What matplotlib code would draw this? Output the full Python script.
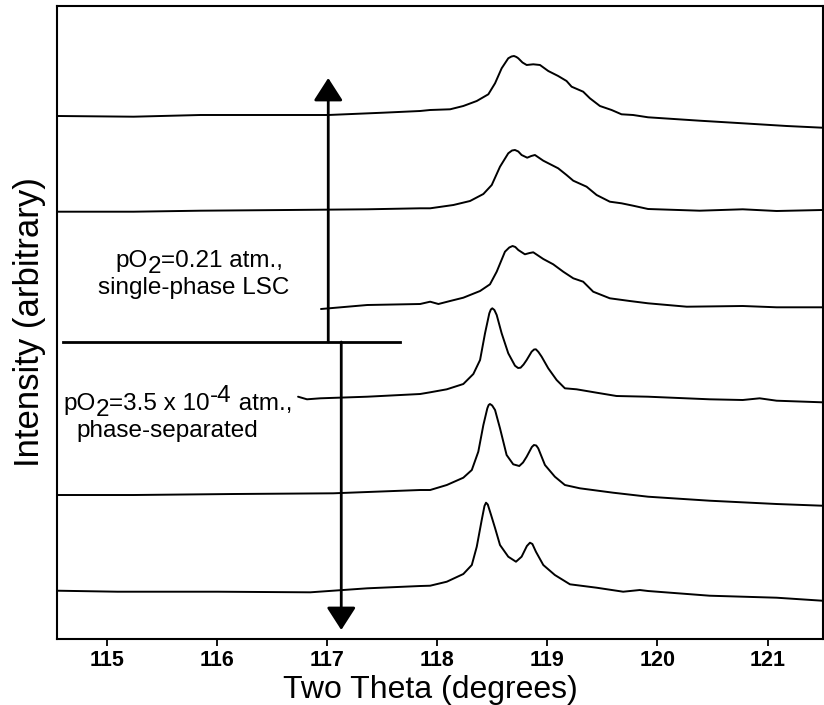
import matplotlib
matplotlib.use("Agg")
import matplotlib.pyplot as plt

plt.rcParams['font.family'] = ['Liberation Sans', 'DejaVu Sans']

# ---- data: two-theta (degrees) and stacked intensity (arbitrary) ----
x1 = [114.556, 115.245, 115.852, 116.641, 117.012, 117.511, 117.846, 117.937, 118.118, 118.238,
      118.360, 118.465, 118.526, 118.586, 118.646, 118.675, 118.698, 118.720, 118.737, 118.775,
      118.813, 118.873, 118.934, 119.009, 119.099, 119.175, 119.221, 119.326, 119.387, 119.478,
      119.584, 119.674, 119.779, 119.915, 120.383, 120.774, 121.173, 121.496]
y1 = [523, 522.3, 524, 524, 524, 526.3, 528, 529, 529.7, 533,
      538, 544.7, 555.7, 570.7, 580.7, 582.5, 583, 582, 580.7, 576.5,
      574, 574.7, 574, 568, 563, 558, 552.3, 547.3, 540.7, 533,
      529, 524.7, 524, 521.7, 518.3, 515.7, 513, 511.3]

x2 = [114.556, 115.245, 115.852, 116.641, 117.366, 117.846, 117.937, 118.148, 118.299, 118.420,
      118.496, 118.571, 118.646, 118.680, 118.707, 118.737, 118.767, 118.818, 118.855, 118.888,
      118.964, 119.099, 119.175, 119.236, 119.357, 119.448, 119.568, 119.674, 119.779, 119.915,
      120.383, 120.774, 121.082, 121.496]
y2 = [427.3, 427.3, 428.3, 429, 429.7, 430.7, 430.7, 434, 438, 445,
      454, 472.3, 485.7, 488.5, 489, 487.5, 484, 481.3, 483, 484,
      478.3, 470.7, 464, 458.3, 452.3, 444, 437.3, 435.7, 433.3, 430,
      428.3, 429.7, 428, 429]

x3 = [116.946, 117.366, 117.846, 117.937, 118.012, 118.118, 118.238, 118.390, 118.480, 118.541,
      118.616, 118.655, 118.685, 118.710, 118.737, 118.797, 118.840, 118.873, 118.964, 119.054,
      119.145, 119.236, 119.326, 119.417, 119.568, 119.749, 119.915, 120.266, 120.774, 121.082,
      121.496]
y3 = [330, 334, 335, 337.3, 335, 338, 341.3, 348, 354.7, 367.3,
      387.3, 391.5, 393, 392, 389, 384.7, 386, 386.7, 380, 374.7,
      367.3, 360.7, 357.3, 347.3, 340.7, 338, 335.7, 332.3, 333, 331.7,
      331.7]

x4 = [116.738, 116.819, 116.940, 117.366, 117.846, 117.937, 118.088, 118.238, 118.329, 118.390,
      118.435, 118.474, 118.488, 118.501, 118.520, 118.541, 118.586, 118.646, 118.707, 118.735,
      118.758, 118.785, 118.813, 118.858, 118.880, 118.897, 118.920, 118.949, 119.009, 119.085,
      119.160, 119.266, 119.448, 119.629, 119.915, 120.474, 120.774, 120.928, 121.082, 121.496]
y4 = [242.3, 239.7, 240.7, 242.3, 245, 246.7, 249.7, 255, 265, 279,
      305.7, 325.7, 329.5, 330.7, 329, 324, 305.7, 285.7, 273.3, 271,
      271.3, 274.5, 279, 287.3, 289.5, 289.7, 287, 282.3, 270.7, 259,
      250.7, 249.7, 246.3, 243, 242.3, 239.7, 239, 240.7, 238.3, 236.7]

x5 = [114.556, 115.245, 116.151, 117.057, 117.846, 117.937, 118.088, 118.238, 118.315, 118.374,
      118.420, 118.456, 118.468, 118.480, 118.500, 118.526, 118.571, 118.631, 118.691, 118.746,
      118.780, 118.813, 118.860, 118.879, 118.900, 118.918, 118.979, 119.069, 119.160, 119.296,
      119.598, 119.915, 120.474, 121.082, 121.496]
y5 = [144, 144, 145, 145.7, 149, 149, 154, 161.3, 169, 187.3,
      214, 230.7, 234, 235, 233.5, 229, 210.7, 184, 174.7, 173,
      176.5, 182.3, 192, 194, 193.5, 190.7, 174, 162.3, 154, 150.7,
      146.3, 142.3, 138.3, 135, 133.3]

x6 = [114.556, 115.100, 116.006, 116.849, 117.366, 117.846, 117.937, 118.088, 118.238, 118.315,
      118.360, 118.405, 118.430, 118.444, 118.460, 118.490, 118.526, 118.571, 118.646, 118.716,
      118.767, 118.815, 118.843, 118.865, 118.897, 118.964, 119.069, 119.206, 119.448, 119.689,
      119.840, 119.915, 120.474, 121.082, 121.496]
y6 = [48.3, 47.3, 47.3, 46.7, 50.7, 53, 53.3, 57.3, 65, 74,
      92.3, 119, 133, 136.3, 134.5, 124, 111, 94, 82.3, 77.3,
      82.3, 93, 96.3, 95, 87.3, 74, 64, 54.7, 51.3, 47.3,
      49, 48, 43.3, 41.3, 38.3]

series_x = [x1, x2, x3, x4, x5, x6]
series_y = [y1, y2, y3, y4, y5, y6]

x_ticks = [115, 116, 117, 118, 119, 120, 121]
x_tick_labels = ['115', '116', '117', '118', '119', '120', '121']

# label pieces: (text, vertical shift in points relative to previous piece)
label_air_1 = [('pO', 0), ('2', -4.5), ('=0.21 atm.,', 4.5)]
label_air_2 = 'single-phase LSC'
label_low_1 = [('pO', 0), ('2', -4.5), ('=3.5 x 10', 4.5), ('-4', 5.5), (' atm.,', -5.5)]
label_low_2 = 'phase-separated'

# ---- figure ----
fig = plt.figure(figsize=(8.24, 7.05), dpi=100)
ax = fig.add_axes([0.0692, 0.0936, 0.9292, 0.8979])

for xs, ys in zip(series_x, series_y):
    ax.plot(xs, ys, color='black', lw=1.4, solid_joinstyle='round', solid_capstyle='round')

ax.set_xlim(114.55, 121.5)
ax.set_ylim(0, 633)

ax.set_xticks(x_ticks)
ax.set_xticklabels(x_tick_labels, fontsize=15.5, fontweight='bold')
ax.set_xticks([114.5 + 0.5 * i for i in range(1, 15, 2)], minor=True)
ax.tick_params(axis='x', which='both', direction='out', length=5, width=1.3, pad=3)
ax.set_yticks([])
for s in ax.spines.values():
    s.set_linewidth(1.5)

ax.set_xlabel('Two Theta (degrees)', fontsize=23)
ax.xaxis.set_label_coords(0.488, -0.057)
ax.set_ylabel('Intensity (arbitrary)', fontsize=25, labelpad=8)

# divider line and arrows
ax.plot([114.6, 117.66], [297, 297], color='black', lw=2)
arrow_style = '-|>,head_length=0.7,head_width=0.45'
ax.annotate('', xy=(117.012, 561), xytext=(117.012, 297),
            arrowprops=dict(arrowstyle=arrow_style, lw=2, color='black',
                            mutation_scale=20, shrinkA=0, shrinkB=0))
ax.annotate('', xy=(117.13, 9), xytext=(117.13, 297),
            arrowprops=dict(arrowstyle=arrow_style, lw=2, color='black',
                            mutation_scale=20, shrinkA=0, shrinkB=0))


def chained_text(x, y, parts, fs):
    prev = ax.text(x, y, parts[0][0], fontsize=fs, ha='left', va='baseline')
    for s, dy in parts[1:]:
        prev = ax.annotate(s, xy=(1, 0), xycoords=prev, xytext=(0, dy),
                           textcoords='offset points', fontsize=fs,
                           ha='left', va='bottom')


FS = 17.5
chained_text(115.08, 372, label_air_1, FS)
ax.text(114.92, 345, label_air_2, fontsize=FS, ha='left', va='baseline')
chained_text(114.61, 229, label_low_1, FS)
ax.text(114.73, 202, label_low_2, fontsize=FS, ha='left', va='baseline')

fig.savefig('out.png', dpi=100)
